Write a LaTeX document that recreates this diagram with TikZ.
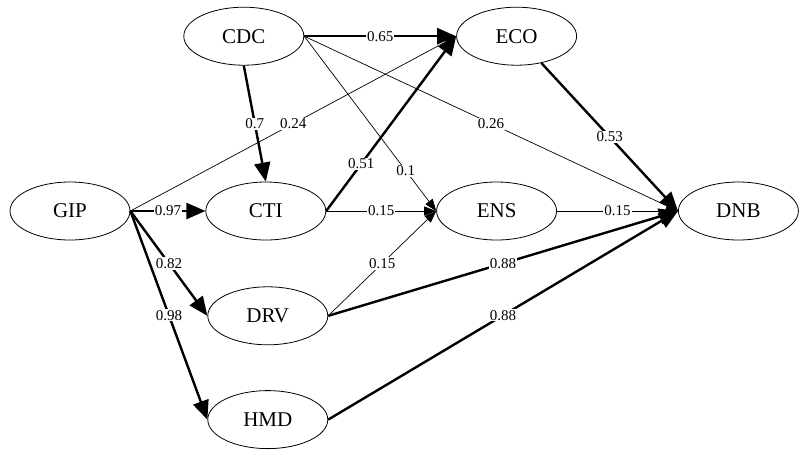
\documentclass[tikz,border=0pt]{standalone}
\usepackage{fontspec}
\setmainfont{Liberation Serif}
\usetikzlibrary{positioning, arrows.meta, shapes.geometric}
\tikzset{
    construct/.style={draw, ellipse, line width=0.8pt, minimum width=120pt,
      minimum height=58pt, inner sep=0pt, font=\fontsize{21}{24}\selectfont},
    coef/.style={fill=white, inner sep=1pt, font=\fontsize{15}{17}\selectfont},
    heavy/.style={line width=2.4pt, -{Triangle[length=19pt,width=16pt]}},
    light/.style={line width=0.7pt, -{Triangle[length=12pt,width=9pt]}},
}
\begin{document}
\begin{tikzpicture}[x=1pt, y=-1pt]
    \useasboundingbox (0,0) rectangle (802,451);

    \node[construct] (GIP) at (70,211) {GIP};
    \node[construct, right=75pt of GIP] (CTI) {CTI};
    \node[construct, right=110pt of CTI] (ENS) {ENS};
    \node[construct, right=121pt of ENS] (DNB) {DNB};
    \node[construct, above=116pt of CTI, xshift=-22pt] (CDC) {CDC};
    \node[construct, right=152pt of CDC] (ECO) {ECO};
    \node[construct, below=46pt of CTI, xshift=2pt] (DRV) {DRV};
    \node[construct, below=45pt of DRV] (HMD) {HMD};

    % paths from CDC
    \draw (CDC.east) edge[heavy] node[coef]{0.65} (ECO.west);
    \draw (CDC.south) edge[heavy] node[coef]{0.7} (CTI.north);
    \draw (CDC.east) edge[light] node[coef]{0.26} (DNB.west);
    \draw (CDC.east) edge[light] node[coef, pos=0.77]{0.1} (ENS.west);

    % paths from GIP
    \draw (GIP.east) edge[light] node[coef]{0.24} (ECO.west);
    \draw (GIP.east) edge[heavy] node[coef]{0.97} (CTI.west);
    \draw (GIP.east) edge[heavy] node[coef]{0.82} (DRV.west);
    \draw (GIP.east) edge[heavy] node[coef]{0.98} (HMD.west);

    % paths from CTI and DRV
    \draw (CTI.east) edge[heavy] node[coef, pos=0.27]{0.51} (ECO.west);
    \draw (CTI.east) edge[light] node[coef]{0.15} (ENS.west);
    \draw (DRV.east) edge[light] node[coef]{0.15} (ENS.west);
    \draw (DRV.east) edge[heavy] node[coef]{0.88} (DNB.west);

    % paths into DNB
    \draw (ECO) edge[heavy] node[coef]{0.53} (DNB.west);
    \draw (ENS.east) edge[light] node[coef]{0.15} (DNB.west);
    \draw (HMD.east) edge[heavy] node[coef]{0.88} (DNB.west);
\end{tikzpicture}
\end{document}
